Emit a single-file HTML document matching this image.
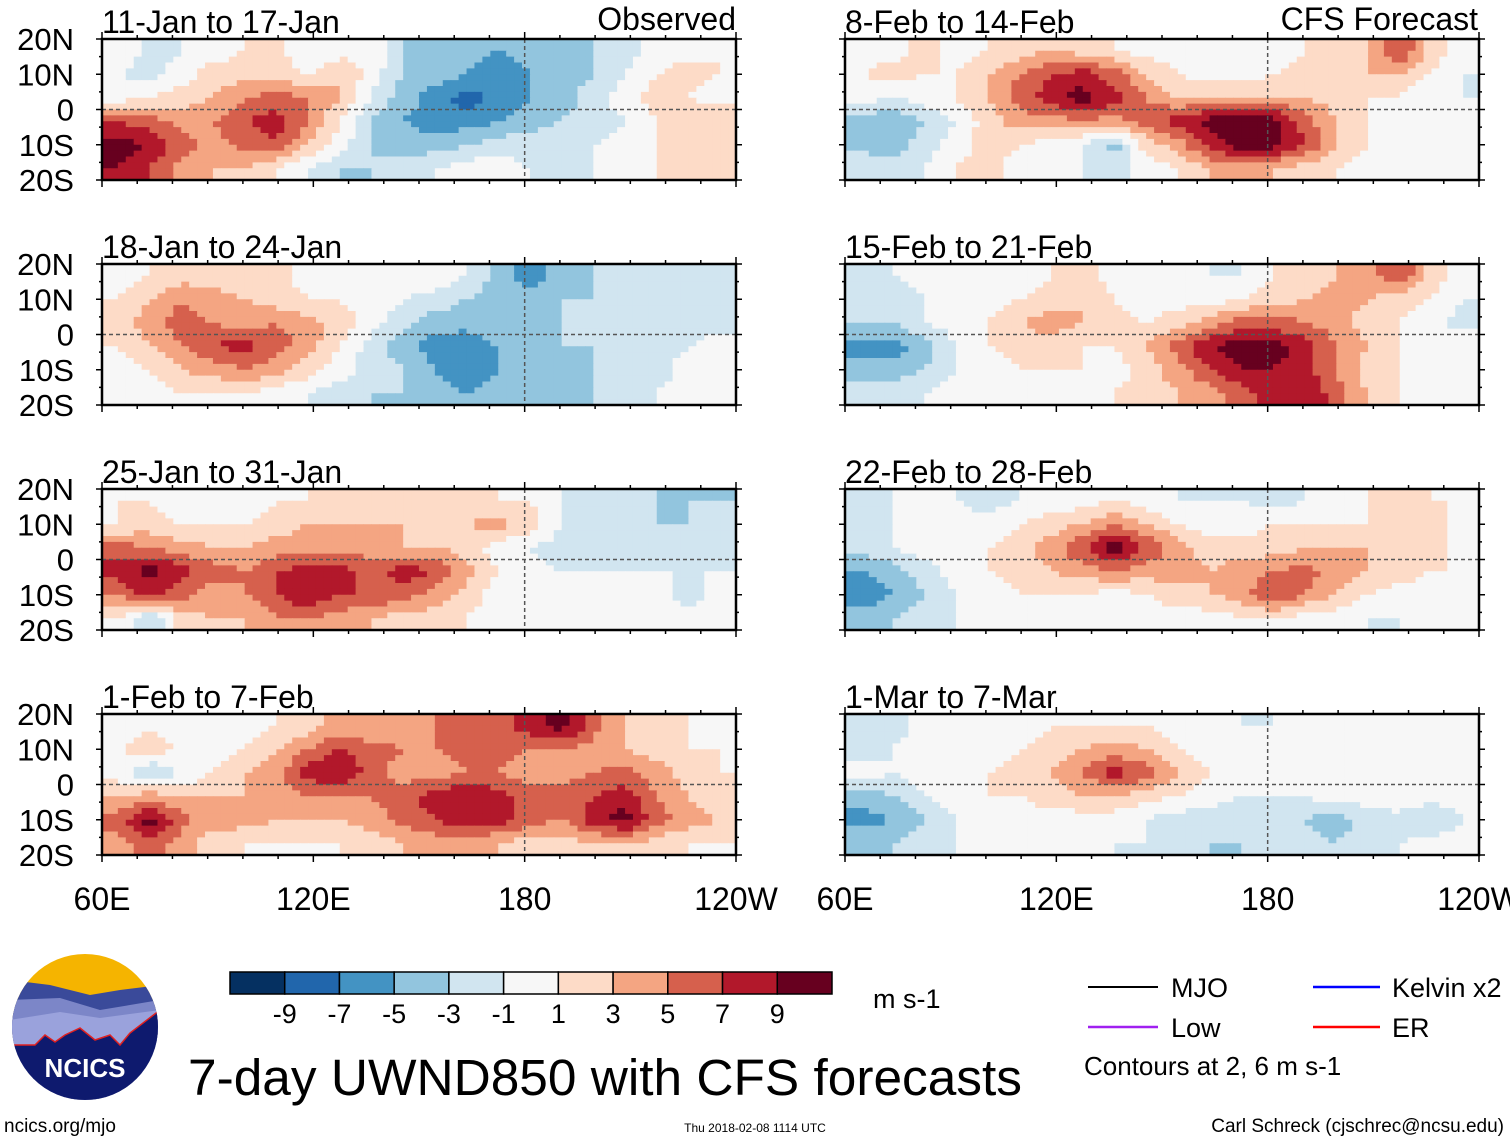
<!DOCTYPE html>
<html><head><meta charset="utf-8">
<style>
html,body{margin:0;padding:0;background:#fff;}
svg{display:block;font-family:"Liberation Sans",Arial,sans-serif;}
</style></head>
<body>
<svg id="chart" width="1510" height="1142" viewBox="0 0 1510 1142" xmlns="http://www.w3.org/2000/svg">
<g id="panels"></g>
<g id="labels"></g>
<g id="colorbar"></g>
<text x="873" y="1008" font-size="27">m s-1</text>
<g>
<line x1="1088" y1="987" x2="1158" y2="987" stroke="#000" stroke-width="2"/>
<text x="1171" y="997" font-size="27">MJO</text>
<line x1="1088" y1="1027" x2="1158" y2="1027" stroke="#a020f0" stroke-width="2.5"/>
<text x="1171" y="1037" font-size="27">Low</text>
<line x1="1313" y1="987" x2="1380" y2="987" stroke="#0000ff" stroke-width="2.5"/>
<text x="1392" y="997" font-size="27">Kelvin x2</text>
<line x1="1313" y1="1027" x2="1380" y2="1027" stroke="#ff0000" stroke-width="2.5"/>
<text x="1392" y="1037" font-size="27">ER</text>
<text x="1084" y="1075" font-size="26">Contours at 2, 6 m s-1</text>
</g>
<g>
<defs><clipPath id="lc"><circle cx="85" cy="1027" r="73"/></clipPath></defs>
<g clip-path="url(#lc)">
<rect x="10" y="950" width="150" height="160" fill="#f5b400"/>
<path d="M10 980 L50 985 L90 995 L120 990 L160 985 L160 1110 L10 1110Z" fill="#3a4a9a"/>
<path d="M10 1000 L60 998 L100 1010 L160 1000 L160 1110 L10 1110Z" fill="#7c86c8"/>
<path d="M10 1020 L60 1012 L100 1018 L160 1010 L160 1110 L10 1110Z" fill="#9aa2dc"/>
<path d="M10 1045 L35 1045 L45 1035 L55 1042 L65 1035 L80 1028 L95 1040 L110 1035 L120 1045 L130 1033 L160 1010 L160 1110 L10 1110Z" fill="#0e1a6e" stroke="#e02020" stroke-width="1.5"/>
</g>
<text x="85" y="1077" font-size="26" font-weight="bold" fill="#fff" text-anchor="middle">NCICS</text>
</g>
<text x="188" y="1095" font-size="51" textLength="834" lengthAdjust="spacingAndGlyphs">7-day UWND850 with CFS forecasts</text>
<text x="4" y="1132" font-size="19">ncics.org/mjo</text>
<text x="755" y="1132" font-size="12" text-anchor="middle">Thu 2018-02-08 1114 UTC</text>
<text x="1504" y="1132" font-size="19" text-anchor="end">Carl Schreck (cjschrec@ncsu.edu)</text>
</svg>
<script>
const panelTitles = ["11-Jan to 17-Jan","8-Feb to 14-Feb","18-Jan to 24-Jan","15-Feb to 21-Feb","25-Jan to 31-Jan","22-Feb to 28-Feb","1-Feb to 7-Feb","1-Mar to 7-Mar"];
const latLabels = ["20N","10N","0","10S","20S"];
const lonLabels = ["60E","120E","180","120W"];
const levelTicks = [-9,-7,-5,-3,-1,1,3,5,7,9];
const levelColors = ["#053061","#2166ac","#4393c3","#92c5de","#d1e5f0","#f7f7f7","#fddbc7","#f4a582","#d6604d","#b2182b","#67001f"];
const uwndP1 = [
[1,-2,-1,0,1,2,-1,0,1,-3,-4,-4,-5,-4,-4,-3,-2,0,0,1],
[-1,-2,0,2,2,2,1,3,0,-3,-4,-5,-6,-5,-4,-3,-1,1,2,1],
[0,1,2,3,5,6,5,3,-1,-4,-6,-8,-6,-5,-4,-2,0,2,1,0],
[7,6,4,5,7,8,5,1,-3,-5,-6,-6,-5,-4,-3,-2,-1,1,3,3],
[10,9,6,4,6,7,3,0,-3,-4,-4,-3,-2,-2,-1,-1,0,1,2,2],
[9,7,4,3,3,1,-1,-3,-3,-2,-1,0,0,-1,-2,-1,0,1,2,2]];
const uwndP2 = [
[0,0,2,0,1,2,3,2,1,0,0,0,-1,0,1,2,3,7,2,0],
[1,2,1,1,3,5,7,8,6,3,1,0,0,1,2,2,3,3,1,-1],
[0,-1,0,1,3,6,8,10,8,5,3,3,3,3,3,2,1,1,-1,-1],
[-4,-5,-3,-1,2,4,4,5,4,6,8,10,11,10,6,3,1,0,-1,0],
[-4,-4,-2,0,2,1,0,-1,-4,2,4,8,10,10,7,3,1,0,-1,0],
[-1,-2,-1,1,2,0,0,-1,-2,0,1,3,4,3,2,1,0,0,0,0]];
const uwndP3 = [
[0,1,2,2,1,2,0,1,0,0,1,-1,-4,-6,-4,-3,-2,-2,-2,-1],
[1,3,5,4,3,2,1,1,0,-1,-2,-3,-4,-4,-3,-3,-2,-2,-2,-2],
[2,4,6,5,4,5,4,2,0,-2,-4,-4,-3,-3,-3,-2,-2,-2,-2,-2],
[1,3,5,7,8,6,4,1,-2,-4,-6,-7,-5,-4,-3,-3,-2,-2,-1,0],
[0,1,3,4,5,4,2,0,-2,-3,-5,-7,-5,-4,-3,-3,-3,-2,0,0],
[1,0,1,1,1,0,-1,-2,-3,-3,-4,-5,-4,-3,-3,-3,-2,-1,0,0]];
const uwndP4 = [
[-1,-1,0,0,0,0,1,2,0,0,0,-1,-1,1,2,3,4,7,2,0],
[-1,-2,-1,-1,0,1,2,3,1,0,0,0,1,2,3,4,3,2,1,-1],
[-3,-3,-1,0,1,3,4,3,2,1,2,4,6,6,5,4,2,1,0,-2],
[-6,-6,-4,-1,1,2,2,1,1,3,6,9,10,10,8,5,3,1,0,1],
[-4,-4,-3,-1,0,1,1,1,0,2,4,7,9,9,8,5,2,1,1,1],
[-2,-2,-1,0,0,0,0,0,1,2,3,4,6,8,9,6,3,1,0,0]];
const uwndP5 = [
[1,1,0,1,0,1,1,2,2,2,1,2,1,1,-1,-2,-2,-3,-3,-3],
[1,2,1,1,1,2,3,3,3,3,2,3,4,2,-1,-2,-3,-3,-3,-2],
[6,5,4,3,3,4,4,4,4,3,3,2,0,-1,-2,-2,-2,-2,-2,-2],
[8,10,8,6,5,7,8,8,6,8,7,4,1,0,-1,-1,-1,-1,-1,-1],
[5,8,6,4,5,7,9,7,7,6,4,2,0,-1,0,1,0,0,-2,0],
[1,-3,2,3,3,5,5,4,3,2,2,1,0,1,1,1,0,0,0,0]];
const uwndP6 = [
[-1,-1,0,-1,-2,-1,0,0,1,0,-1,-1,-1,-2,-1,0,1,2,1,1],
[-2,-1,-1,0,0,1,2,3,5,3,1,0,0,1,1,1,1,2,2,0],
[-2,-1,0,1,1,2,4,7,10,7,4,2,2,2,3,3,3,3,2,0],
[-5,-4,-2,0,1,2,3,4,5,4,4,3,4,5,6,4,3,2,1,1],
[-7,-5,-3,-1,0,1,1,1,0,1,2,3,4,7,5,3,1,0,0,-1],
[-3,-3,-2,-1,0,0,0,0,-1,0,0,0,1,1,0,0,-1,-1,0,0]];
const uwndP7 = [
[0,1,0,1,0,1,2,4,3,4,5,6,6,8,10,6,3,2,1,1],
[1,2,1,0,1,3,5,7,6,5,5,6,6,5,5,4,3,2,1,1],
[0,-3,-1,1,3,4,8,9,6,4,4,5,5,4,4,5,6,4,2,1],
[3,4,3,3,3,4,5,5,5,6,8,9,8,6,6,7,8,5,3,2],
[6,10,6,4,4,3,3,3,4,6,7,9,8,6,5,8,10,6,4,3],
[4,6,4,2,1,1,1,1,2,3,4,4,3,2,2,3,3,2,1,1]];
const uwndP8 = [
[-1,-2,0,-1,0,0,1,1,1,1,0,0,-1,-1,0,1,1,1,1,0],
[-2,-1,0,0,0,1,2,3,4,3,1,0,0,0,1,1,1,1,0,0],
[0,-1,0,0,1,2,3,5,8,6,3,1,0,0,0,1,1,1,0,0],
[-4,-3,-1,0,1,1,2,3,3,2,1,0,-1,-1,-1,0,0,1,0,0],
[-6,-5,-3,-1,0,0,0,0,0,-1,-2,-2,-3,-3,-3,-4,-2,-2,-3,-1],
[-3,-3,-2,-1,0,0,0,0,-1,-1,-2,-3,-3,-2,-2,-3,-2,-1,0,0]];
const panelFields = [uwndP1,uwndP2,uwndP3,uwndP4,uwndP5,uwndP6,uwndP7,uwndP8];

const NS="http://www.w3.org/2000/svg";
const colX=[102,845], rowY=[39,264,489,714], PW=634, PH=141;
const SUB=4;
function colorFor(v){let i=0;while(i<levelTicks.length&&v>levelTicks[i])i++;return levelColors[i];}
function mk(tag,attrs,parent){const e=document.createElementNS(NS,tag);for(const k in attrs)e.setAttribute(k,attrs[k]);parent.appendChild(e);return e;}
function sample(f,fx,fy){ // bilinear on cell centers
  const nr=f.length,nc=f[0].length;
  let x=Math.max(0,Math.min(nc-1,fx-0.5)), y=Math.max(0,Math.min(nr-1,fy-0.5));
  const x0=Math.floor(x),y0=Math.floor(y),x1=Math.min(nc-1,x0+1),y1=Math.min(nr-1,y0+1),dx=x-x0,dy=y-y0;
  return f[y0][x0]*(1-dx)*(1-dy)+f[y0][x1]*dx*(1-dy)+f[y1][x0]*(1-dx)*dy+f[y1][x1]*dx*dy;
}
const panelsG=document.getElementById('panels');
const labelsG=document.getElementById('labels');

panelFields.forEach((field,p)=>{
  const x0=colX[p%2], y0=rowY[Math.floor(p/2)];
  const g=mk('g',{},panelsG);
  
  
  const nr=field.length, nc=field[0].length;
  const cw=PW/nc/SUB, ch=PH/nr/SUB;
  for(let j=0;j<nr*SUB;j++)for(let i=0;i<nc*SUB;i++){
    const v=sample(field,(i+0.5)/SUB,(j+0.5)/SUB);
    const r=mk('rect',{x:(x0+i*cw).toFixed(2),y:(y0+j*ch).toFixed(2),width:(cw+0.5).toFixed(2),height:(ch+0.5).toFixed(2),fill:colorFor(v)},g);
    
    
  }
  const eq=mk('line',{x1:x0,x2:x0+PW,y1:y0+PH/2,y2:y0+PH/2,stroke:'#555','stroke-width':1.5,'stroke-dasharray':'4,3'},g);
  
  
  const dl=mk('line',{x1:x0+PW*2/3,x2:x0+PW*2/3,y1:y0,y2:y0+PH,stroke:'#555','stroke-width':1.5,'stroke-dasharray':'4,3'},g);
  
  
  const fr=mk('rect',{x:x0,y:y0,width:PW,height:PH,fill:'none',stroke:'#000','stroke-width':2.5},g);
  
  
  for(let k=0;k<=18;k++){const tx=x0+k*PW/18,len=(k%6==0)?7:4;
    mk('line',{x1:tx,x2:tx,y1:y0+PH,y2:y0+PH+len,stroke:'#000','stroke-width':1.5},g);
    mk('line',{x1:tx,x2:tx,y1:y0,y2:y0-len,stroke:'#000','stroke-width':1.5},g);}
  for(let k=0;k<=8;k++){const ty=y0+k*PH/8,len=(k%2==0)?6:3;
    mk('line',{x1:x0,x2:x0-len,y1:ty,y2:ty,stroke:'#000','stroke-width':1.5},g);
    mk('line',{x1:x0+PW,x2:x0+PW+len,y1:ty,y2:ty,stroke:'#000','stroke-width':1.5},g);}
  const t=mk('text',{x:x0,y:y0-6,'font-size':32},labelsG);t.textContent=panelTitles[p];
  
  
  if(p%2==0){latLabels.forEach((l,k)=>{const tl=mk('text',{x:74,y:y0+k*PH/4+11,'font-size':31,'text-anchor':'end'},labelsG);tl.textContent=l;
    
    });}
});
[["Observed",736,30],["CFS Forecast",1478,30]].forEach(a=>{const t=mk('text',{x:a[1],y:a[2],'font-size':32,'text-anchor':'end'},labelsG);t.textContent=a[0];
  
  });
colX.forEach(x0=>lonLabels.forEach((l,k)=>{const t=mk('text',{x:x0+k*PW/3,y:910,'font-size':32,'text-anchor':'middle'},labelsG);t.textContent=l;
  
  }));

const cb=document.getElementById('colorbar');
const cbX=230, cbW=602, cbY=972, cbH=22, bw=cbW/levelColors.length;
levelColors.forEach((c,i)=>{const r=mk('rect',{x:cbX+i*bw,y:cbY,width:bw,height:cbH,fill:c,stroke:'#000','stroke-width':1.5},cb);
  
  });
levelTicks.forEach((v,i)=>{const t=mk('text',{x:cbX+(i+1)*bw,y:1023,'font-size':27,'text-anchor':'middle'},cb);t.textContent=v;
  
  });
</script>
</body></html>
